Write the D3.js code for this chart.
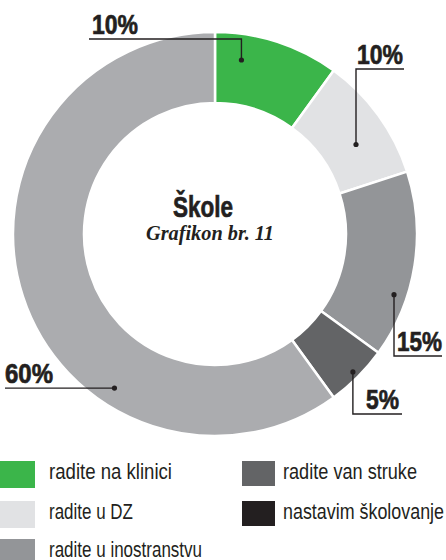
<!DOCTYPE html>
<html>
<head>
<meta charset="utf-8">
<script src="https://cdn.jsdelivr.net/npm/d3@7"></script>
<style>
  html, body { margin: 0; padding: 0; background: #fff; }
  svg { display: block; }
  .narrow { font-family: "Liberation Sans Narrow", "Liberation Sans", "DejaVu Sans Condensed", sans-serif; }
</style>
</head>
<body>
<svg width="446" height="560"></svg>
<script>
// data
var categories = ["radite na klinici", "radite u DZ", "radite u inostranstvu", "radite van struke", "nastavim školovanje"];
var values = [10, 10, 15, 5, 60];
var labels = ["10%", "10%", "15%", "5%", "60%"];
var sliceColors = ["#3bb54a", "#e1e2e4", "#939598", "#636466", "#abacaf"];
var legendColors = ["#3bb54a", "#e1e2e4", "#939598", "#636466", "#231f20"];

var title = "Škole";
var subtitle = "Grafikon br. 11";

// svg and sizing
var svg = d3.select("svg"),
    width = +svg.attr("width"),
    height = +svg.attr("height");

var cx = 215, cy = 234,
    outerR = 202, innerR = 131;
var ink = "#231f20";

// squeeze text into a condensed width (no condensed font available offline)
function fit(sel, w) {
  sel.attr("textLength", w).attr("lengthAdjust", "spacingAndGlyphs");
}
// heavier look for the bold labels
function heavy(sel) {
  sel.attr("stroke", ink).attr("stroke-width", 0.7).attr("paint-order", "stroke");
}

var pie = d3.pie().sort(null).value(function(d) { return d; });
var arcs = pie(values);

var arc = d3.arc()
    .innerRadius(innerR)
    .outerRadius(outerR);

var g = svg.append("g")
    .attr("transform", "translate(" + cx + "," + cy + ")");

g.selectAll("path.slice")
  .data(arcs)
  .enter().append("path")
    .attr("class", "slice")
    .attr("d", arc)
    .attr("fill", function(d, i) { return sliceColors[i]; })
    .attr("stroke", "#fff")
    .attr("stroke-width", 2.5)
    .attr("stroke-linejoin", "miter");

// centre text
svg.append("text")
    .attr("class", "narrow")
    .attr("x", 173).attr("y", 217)
    .attr("font-size", 30)
    .attr("font-weight", "bold")
    .attr("fill", ink)
    .text(title)
    .call(fit, 60)
    .call(heavy);

svg.append("text")
    .attr("x", 146).attr("y", 240)
    .attr("font-family", "'Liberation Serif', 'DejaVu Serif', serif")
    .attr("font-style", "italic")
    .attr("font-weight", "bold")
    .attr("font-size", 21)
    .attr("fill", ink)
    .text(subtitle)
    .call(fit, 128);

// callouts: where the dot sits in the slice and where the leader ends
var callouts = [
  { frac: 0.24, rad: 176, lineY: 39,  endX: 89,  textX: 92,  w: 46 },
  { frac: 0.60, rad: 167, lineY: 69,  endX: 404, textX: 357, w: 46 },
  { frac: 0.68, rad: 189, lineY: 356, endX: 442, textX: 397, w: 45 },
  { frac: 0.50, rad: 195, lineY: 414, endX: 402, textX: 366, w: 33 },
  { frac: 0.32, rad: 184, lineY: null, endX: 5,  textX: 5,   w: 48 }
];

arcs.forEach(function(d, i) {
  var c = callouts[i];
  if (!c) return;
  var a = d.startAngle + c.frac * (d.endAngle - d.startAngle);
  var px = cx + c.rad * Math.sin(a),
      py = cy - c.rad * Math.cos(a);
  var ly = c.lineY == null ? py : c.lineY;

  svg.append("path")
      .attr("d", d3.line()([[px, py], [px, ly], [c.endX, ly]]))
      .attr("fill", "none")
      .attr("stroke", ink)
      .attr("stroke-width", 1.4);

  svg.append("circle")
      .attr("cx", px).attr("cy", py)
      .attr("r", 2.6)
      .attr("fill", ink);

  svg.append("text")
      .attr("class", "narrow")
      .attr("x", c.textX)
      .attr("y", ly - 5)
      .attr("font-size", 28)
      .attr("font-weight", "bold")
      .attr("fill", ink)
      .text(labels[i])
      .call(fit, c.w)
      .call(heavy);
});

// legend
var legendPos = [
  { x: 0,   y: 461, w: 123 },
  { x: 0,   y: 501, w: 84 },
  { x: 0,   y: 539, w: 153 },
  { x: 242, y: 461, w: 134 },
  { x: 242, y: 501, w: 161 }
];

var legend = svg.append("g").attr("class", "legend");

categories.forEach(function(name, i) {
  var p = legendPos[i];
  legend.append("rect")
      .attr("x", p.x).attr("y", p.y)
      .attr("width", i < 3 ? 35 : 33)
      .attr("height", i < 3 ? 27 : 25)
      .attr("fill", legendColors[i]);
  legend.append("text")
      .attr("class", "narrow")
      .attr("x", p.x + (i < 3 ? 49 : 41))
      .attr("y", p.y + 18)
      .attr("font-size", 22)
      .attr("fill", ink)
      .text(name)
      .call(fit, p.w);
});
</script>
</body>
</html>
